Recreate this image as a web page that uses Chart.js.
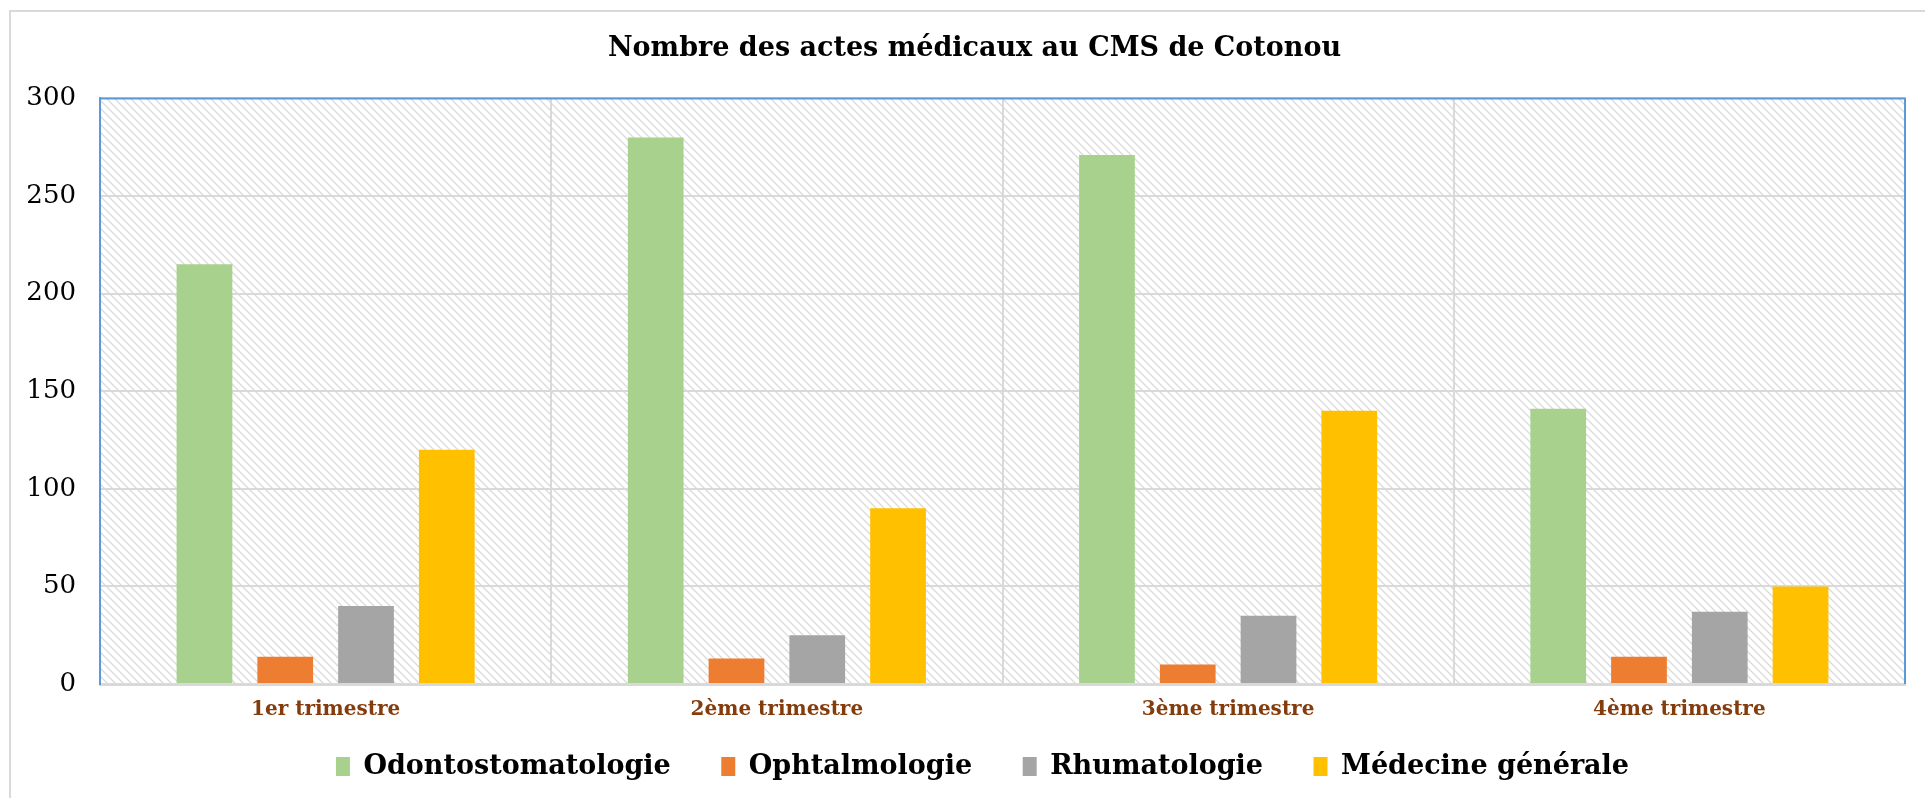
<!DOCTYPE html>
<html>
<head>
<meta charset="utf-8">
<script src="https://cdn.jsdelivr.net/npm/chart.js@4.4.1/dist/chart.umd.min.js"></script>
<style>
    body { margin: 0; background: #FFFFFF; overflow: hidden; }
    #wrap { position: relative; width: 1925px; height: 798px; }
    #frame { position: absolute; left: 9px; top: 10px; right: -5px; bottom: -5px; border-left: 2px solid #D9D9D9; border-top: 2px solid #D9D9D9; }
    #actesChart { position: absolute; left: 0; top: 0; }
</style>
</head>
<body>
<div id="wrap">
    <div id="frame"></div>
    <canvas id="actesChart" width="1925" height="798"></canvas>
</div>
<script>
const trimestres = ['1er trimestre', '2ème trimestre', '3ème trimestre', '4ème trimestre'];
const odontostomatologie = [215, 280, 271, 141];
const ophtalmologie = [14, 13, 10, 14];
const rhumatologie = [40, 25, 35, 37];
const medecineGenerale = [120, 90, 140, 50];
const yTicks = [0, 50, 100, 150, 200, 250, 300];

document.addEventListener('DOMContentLoaded', function () {
    renderActesChart();
});

function makeHatch(ctx) {
    const c = document.createElement('canvas');
    c.width = 8;
    c.height = 8;
    const g = c.getContext('2d');
    g.fillStyle = '#FFFFFF';
    g.fillRect(0, 0, 8, 8);
    g.strokeStyle = '#DADADA';
    g.lineWidth = 1.3;
    g.beginPath();
    g.moveTo(-2, -2); g.lineTo(10, 10);
    g.moveTo(-2, 6); g.lineTo(2, 10);
    g.moveTo(6, -2); g.lineTo(10, 2);
    g.stroke();
    return ctx.createPattern(c, 'repeat');
}

// hatched plot background, blue frame, small offset of title/legend like the Excel original
const plotDecor = {
    id: 'plotDecor',
    afterLayout(chart) {
        chart.titleBlock.left += 22;
        chart.titleBlock.right += 22;
        chart.legend.left += 30;
        chart.legend.right += 30;
    },
    beforeDraw(chart) {
        const a = chart.chartArea;
        const c = chart.ctx;
        c.save();
        c.fillStyle = makeHatch(c);
        c.fillRect(a.left, a.top, a.right - a.left, a.bottom - a.top);
        c.restore();
    },
    afterDraw(chart) {
        const a = chart.chartArea;
        const c = chart.ctx;
        c.save();
        c.strokeStyle = '#5B9BD5';
        c.lineWidth = 2;
        c.beginPath();
        c.moveTo(a.left, a.bottom);
        c.lineTo(a.left, a.top);
        c.lineTo(a.right, a.top);
        c.lineTo(a.right, a.bottom);
        c.stroke();
        c.restore();
    }
};

function renderActesChart() {
    const ctx = document.getElementById('actesChart').getContext('2d');
    new Chart(ctx, {
        type: 'bar',
        data: {
            labels: trimestres,
            datasets: [
                { label: 'Odontostomatologie', data: odontostomatologie, backgroundColor: '#A9D18E' },
                { label: 'Ophtalmologie', data: ophtalmologie, backgroundColor: '#ED7D31' },
                { label: 'Rhumatologie', data: rhumatologie, backgroundColor: '#A5A5A5' },
                { label: 'Médecine générale', data: medecineGenerale, backgroundColor: '#FFC000' }
            ]
        },
        options: {
            responsive: false,
            animation: false,
            datasets: {
                bar: {
                    categoryPercentage: 0.716,
                    barPercentage: 0.69
                }
            },
            layout: {
                padding: { left: 0, right: 20, top: 0, bottom: 8 }
            },
            scales: {
                x: {
                    afterFit: function (scale) { scale.height = 59; },
                    grid: { offset: true, drawTicks: false, color: '#D9D9D9', lineWidth: 2 },
                    border: { color: '#D9D9D9', width: 3 },
                    ticks: {
                        padding: 14,
                        color: '#843C0C',
                        font: { family: '"DejaVu Serif"', weight: 'bold', size: 20 }
                    }
                },
                y: {
                    min: 0,
                    max: 300,
                    afterFit: function (scale) { scale.width = 100; },
                    afterBuildTicks: function (scale) {
                        scale.ticks = yTicks.map(v => ({ value: v }));
                    },
                    grid: { drawTicks: false, color: '#D9D9D9', lineWidth: 2 },
                    border: { color: '#5B9BD5', width: 2 },
                    ticks: {
                        padding: 24,
                        color: '#000000',
                        font: { family: '"DejaVu Serif"', size: 26 }
                    }
                }
            },
            plugins: {
                title: {
                    display: true,
                    text: 'Nombre des actes médicaux au CMS de Cotonou',
                    color: '#000000',
                    font: { family: '"DejaVu Serif"', weight: 'bold', size: 27 },
                    padding: { top: 33, bottom: 33 }
                },
                legend: {
                    position: 'bottom',
                    labels: {
                        color: '#000000',
                        boxWidth: 14,
                        boxHeight: 19,
                        padding: 10,
                        font: { family: '"DejaVu Serif"', weight: 'bold', size: 27 },
                        generateLabels: function (chart) {
                            const items = Chart.defaults.plugins.legend.labels.generateLabels(chart);
                            items.forEach((item, i) => {
                                if (i < items.length - 1) item.text += '\u2002\u2002\u2002';
                            });
                            return items;
                        }
                    }
                },
                tooltip: { enabled: false }
            }
        },
        plugins: [plotDecor]
    });
}
</script>
</body>
</html>
